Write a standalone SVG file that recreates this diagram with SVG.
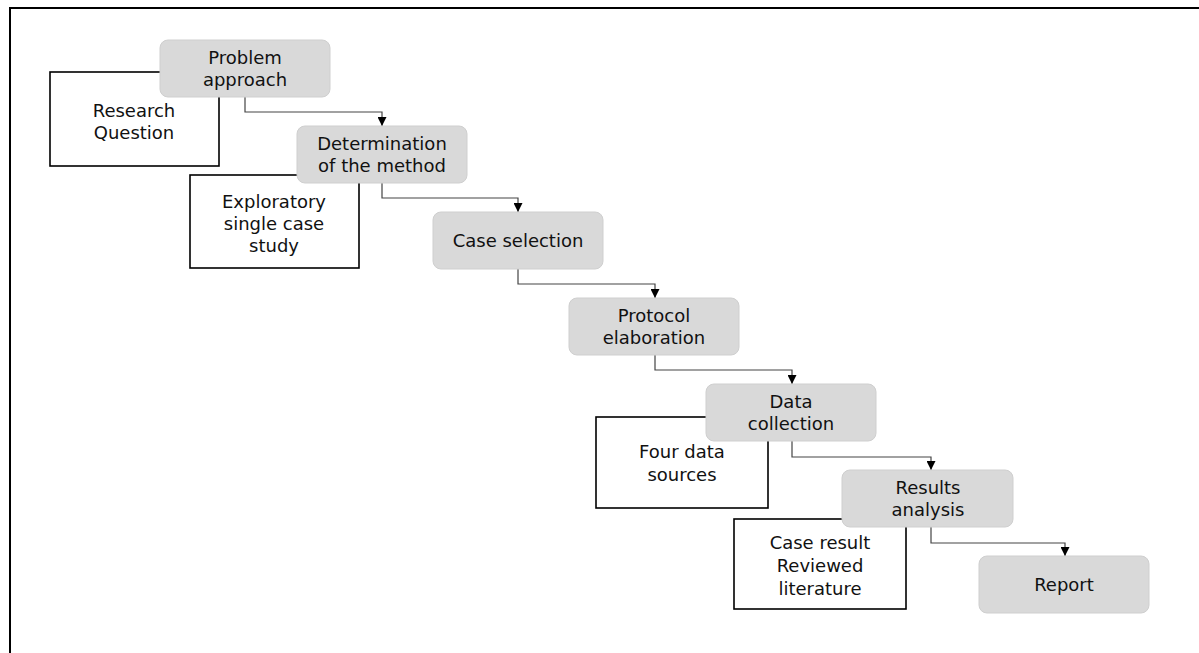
<svg xmlns="http://www.w3.org/2000/svg" width="1199" height="653" viewBox="0 0 1199 653">
<style>
.frame{fill:none;stroke:#000;stroke-width:2}
.note{fill:#fff;stroke:#000;stroke-width:1.6}
.step{fill:#d9d9d9;stroke:#cfcfcf;stroke-width:1}
.t{font-family:"DejaVu Sans",Verdana,sans-serif;font-size:18px;fill:#111;text-anchor:middle}
.c{fill:none;stroke:#444;stroke-width:1.2}
</style>
<defs>
<marker id="ah" viewBox="0 0 10 10" refX="10" refY="5" markerWidth="9" markerHeight="9" markerUnits="userSpaceOnUse" orient="auto">
<path d="M0,0 L10,5 L0,10 z" fill="#000"/>
</marker>
</defs>
<rect width="1199" height="653" fill="#fff"/>
<path class="frame" d="M10,653 V8 H1199"/>

<g id="connectors">
<path class="c" marker-end="url(#ah)" d="M245,97 V112 H382 V126"/>
<path class="c" marker-end="url(#ah)" d="M382,183 V198 H518 V212"/>
<path class="c" marker-end="url(#ah)" d="M518,269 V284 H655 V298"/>
<path class="c" marker-end="url(#ah)" d="M655,355 V370 H792 V384"/>
<path class="c" marker-end="url(#ah)" d="M792,441 V457 H931 V470"/>
<path class="c" marker-end="url(#ah)" d="M931,527 V543 H1065 V556"/>
</g>

<g id="n-research-question">
<rect class="note" x="50" y="72" width="169" height="94"/>
<text class="t" x="134" y="117">Research</text>
<text class="t" x="134" y="139">Question</text>
</g>
<g id="n-problem-approach">
<rect class="step" x="160" y="40" width="170" height="57" rx="8"/>
<text class="t" x="245" y="64">Problem</text>
<text class="t" x="245" y="86">approach</text>
</g>

<g id="n-exploratory">
<rect class="note" x="190" y="175" width="169" height="93"/>
<text class="t" x="274" y="208">Exploratory</text>
<text class="t" x="274" y="230">single case</text>
<text class="t" x="274" y="252">study</text>
</g>
<g id="n-determination">
<rect class="step" x="297" y="126" width="170" height="57" rx="8"/>
<text class="t" x="382" y="150">Determination</text>
<text class="t" x="382" y="172">of the method</text>
</g>

<g id="n-case-selection">
<rect class="step" x="433" y="212" width="170" height="57" rx="8"/>
<text class="t" x="518" y="247">Case selection</text>
</g>

<g id="n-protocol">
<rect class="step" x="569" y="298" width="170" height="57" rx="8"/>
<text class="t" x="654" y="322">Protocol</text>
<text class="t" x="654" y="344">elaboration</text>
</g>

<g id="n-four-data">
<rect class="note" x="596" y="417" width="172" height="91"/>
<text class="t" x="682" y="458">Four data</text>
<text class="t" x="682" y="481">sources</text>
</g>
<g id="n-data-collection">
<rect class="step" x="706" y="384" width="170" height="57" rx="8"/>
<text class="t" x="791" y="408">Data</text>
<text class="t" x="791" y="430">collection</text>
</g>

<g id="n-case-result">
<rect class="note" x="734" y="519" width="172" height="90"/>
<text class="t" x="820" y="549">Case result</text>
<text class="t" x="820" y="572">Reviewed</text>
<text class="t" x="820" y="595">literature</text>
</g>
<g id="n-results-analysis">
<rect class="step" x="842" y="470" width="171" height="57" rx="8"/>
<text class="t" x="928" y="494">Results</text>
<text class="t" x="928" y="516">analysis</text>
</g>

<g id="n-report">
<rect class="step" x="979" y="556" width="170" height="57" rx="8"/>
<text class="t" x="1064" y="591">Report</text>
</g>
</svg>
